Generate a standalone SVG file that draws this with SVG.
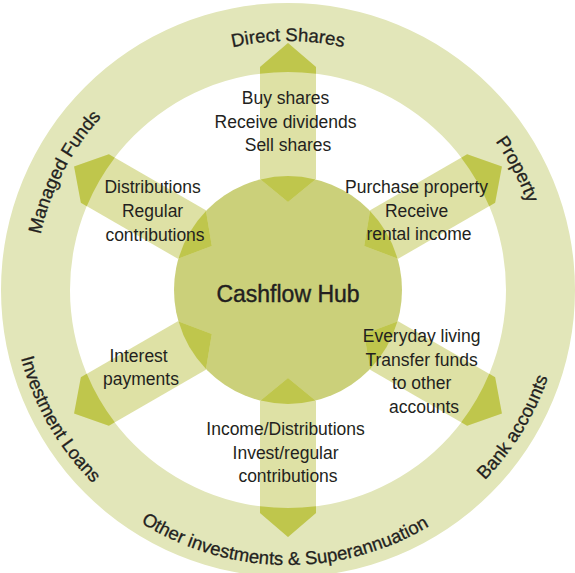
<svg xmlns="http://www.w3.org/2000/svg" xmlns:xlink="http://www.w3.org/1999/xlink" width="575" height="573" viewBox="0 0 575 573">
  <style>
    text { font-family: "Liberation Sans", Arial, sans-serif; fill: #231f20; }
    .ring { fill: #e2e6b9; }
    .hub { fill: #cbd07a; }
    .spoke { fill: #dee1a5; }
    .spoke-over { fill: #bfc64c; }
    .flow-label { font-size: 17.5px; text-anchor: middle; }
    .ring-label { font-size: 18.5px; text-anchor: middle; stroke: #231f20; stroke-width: 0.3px; }
    .hub-label { font-size: 23px; text-anchor: middle; stroke: #231f20; stroke-width: 0.4px; }
  </style>
  <defs>
    <!-- one spoke, pointing up from the hub to the band, drawn as three parts:
         the whole band, the end lying on the outer ring, the end lying on the hub -->
    <g id="spoke">
      <path class="spoke" d="M288 202 L316 179 L316 67 L288 43 L260 67 L260 179 Z"/>
      <path class="spoke-over" d="M260 73.8 A218 218 0 0 1 316 73.8 L316 67 L288 43 L260 67 Z"/>
      <path class="spoke-over" d="M260.6 179.5 A114 114 0 0 1 315.4 179.5 L288 202 Z"/>
    </g>
    <!-- label paths: clockwise for the upper half, counter-clockwise for the lower half -->
    <path id="arc-top-247" d="M288 535 A247 247 0 0 1 288 41 A247 247 0 0 1 288 535"/>
    <path id="arc-top-253" d="M288 541 A253 253 0 0 1 288 35 A253 253 0 0 1 288 541"/>
    <path id="arc-top-254" d="M288 542 A254 254 0 0 1 288 34 A254 254 0 0 1 288 542"/>
    <path id="arc-bot-277" d="M288 11 A277 277 0 0 0 288 565 A277 277 0 0 0 288 11"/>
    <path id="arc-bot-275" d="M288 13 A275 275 0 0 0 288 563 A275 275 0 0 0 288 13"/>
    <path id="arc-bot-276" d="M288 12 A276 276 0 0 0 288 564 A276 276 0 0 0 288 12"/>
  </defs>

  <!-- outer band -->
  <path id="band" class="ring" d="M1 290 A287 287 0 1 0 575 290 A287 287 0 1 0 1 290 Z M70 290 A218 218 0 1 1 506 290 A218 218 0 1 1 70 290 Z"/>
  <g id="hub">
    <circle class="hub" cx="288" cy="290" r="114"/>
  </g>

  <!-- flows between the hub and each account type -->
  <g id="flows">
    <use xlink:href="#spoke"/>
    <use xlink:href="#spoke" transform="rotate(60 288 290)"/>
    <use xlink:href="#spoke" transform="rotate(120 288 290)"/>
    <use xlink:href="#spoke" transform="rotate(180 288 290)"/>
    <use xlink:href="#spoke" transform="rotate(240 288 290)"/>
    <use xlink:href="#spoke" transform="rotate(300 288 290)"/>
    <text class="flow-label">
      <tspan x="288" y="104">Buy shares</tspan>
      <tspan x="288" y="128">Receive dividends</tspan>
      <tspan x="288" y="151">Sell shares</tspan>
    </text>
    <text class="flow-label">
      <tspan x="419" y="193">Purchase property</tspan>
      <tspan x="419" y="217">Receive</tspan>
      <tspan x="419" y="240">rental income</tspan>
    </text>
    <text class="flow-label">
      <tspan x="424" y="342">Everyday living</tspan>
      <tspan x="424" y="366">Transfer funds</tspan>
      <tspan x="424" y="389">to other</tspan>
      <tspan x="424" y="413">accounts</tspan>
    </text>
    <text class="flow-label">
      <tspan x="288" y="435">Income/Distributions</tspan>
      <tspan x="288" y="459">Invest/regular</tspan>
      <tspan x="288" y="482">contributions</tspan>
    </text>
    <text class="flow-label">
      <tspan x="141" y="362">Interest</tspan>
      <tspan x="141" y="385">payments</tspan>
    </text>
    <text class="flow-label">
      <tspan x="155" y="193">Distributions</tspan>
      <tspan x="155" y="217">Regular</tspan>
      <tspan x="155" y="241">contributions</tspan>
    </text>
  </g>

  <g id="hub-label">
    <text class="hub-label" x="288" y="302">Cashflow Hub</text>
  </g>

  <!-- account types around the band -->
  <g id="direct-shares">
    <text class="ring-label"><textPath xlink:href="#arc-top-247" startOffset="50%">Direct Shares</textPath></text>
  </g>
  <g id="property">
    <text class="ring-label"><textPath xlink:href="#arc-top-254" startOffset="67.4%">Property</textPath></text>
  </g>
  <g id="bank-accounts">
    <text class="ring-label"><textPath xlink:href="#arc-bot-275" startOffset="66.2%">Bank accounts</textPath></text>
  </g>
  <g id="other-investments">
    <text class="ring-label"><textPath xlink:href="#arc-bot-277" startOffset="49.8%">Other investments &amp; Superannuation</textPath></text>
  </g>
  <g id="investment-loans">
    <text class="ring-label"><textPath xlink:href="#arc-bot-276" startOffset="33.3%">Investment Loans</textPath></text>
  </g>
  <g id="managed-funds">
    <text class="ring-label"><textPath xlink:href="#arc-top-253" startOffset="32.6%">Managed Funds</textPath></text>
  </g>
</svg>
